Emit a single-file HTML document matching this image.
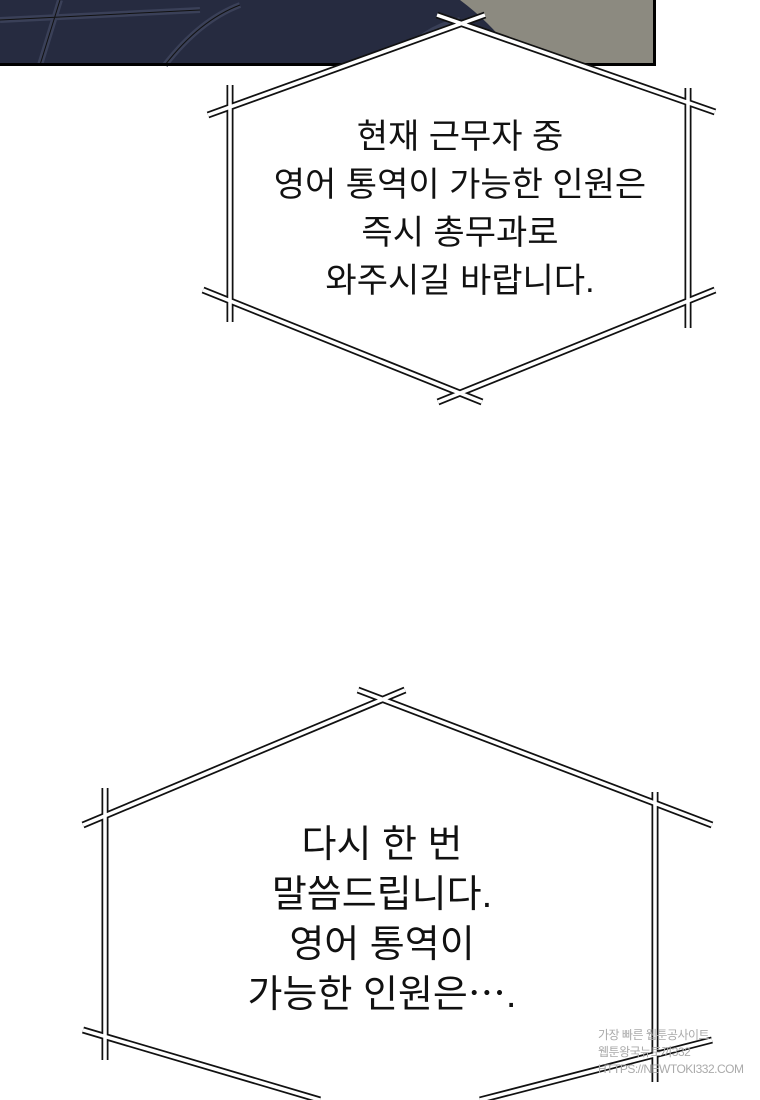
<!DOCTYPE html>
<html><head><meta charset="utf-8"><style>
body{margin:0;width:760px;height:1100px;background:#fff;overflow:hidden;position:relative;font-family:"Liberation Sans","Noto Sans CJK KR",sans-serif}
.t{position:absolute;text-align:center;color:#111;white-space:nowrap}
</style></head><body>
<svg width="760" height="1100" style="position:absolute;left:0;top:0">
<rect x="0" y="0" width="655" height="65" fill="#262b40"/>
<path d="M460 0 L655 0 L655 65 L520 65 Q500 30 460 0Z" fill="#8c8a80"/>
<path d="M0 20 L200 10 M40 65 L60 0 M165 65 Q200 20 240 5 M400 60 Q420 30 460 20" stroke="#3a4058" stroke-width="6" fill="none"/>
<path d="M0 20 L200 10 M40 65 L60 0 M165 65 Q200 20 240 5" stroke="#111" stroke-width="1" fill="none"/>
<rect x="0" y="63" width="655" height="3" fill="#000"/>
<rect x="653" y="0" width="3" height="66" fill="#000"/>
<polygon points="460,22 230,108 230,303 460,395 688,303 688,108" fill="#fff"/>
<polygon points="382,697 105,808 105,1042 382,1130 655,1042 655,808" fill="#fff"/>
<g stroke="#111" stroke-width="7" stroke-linecap="butt" fill="none">
<path d="M208 115 L485 15 M437 15 L715 112 M230 85 V322 M688 88 V328 M203 290 L482 402 M715 290 L438 402"/>
<path d="M83 825 L405 690 M358 690 L712 825 M105 788 V1060 M655 792 V1082 M83 1030 L320 1100 M712 1040 L480 1100"/>
</g>
<g stroke="#fff" stroke-width="3.5" fill="none">
<path d="M208 115 L485 15 M437 15 L715 112 M230 85 V322 M688 88 V328 M203 290 L482 402 M715 290 L438 402"/>
<path d="M83 825 L405 690 M358 690 L712 825 M105 788 V1060 M655 792 V1082 M83 1030 L320 1100 M712 1040 L480 1100"/>
</g>
</svg>
<div class="t" style="left:260px;width:400px;top:113px;font-size:34px;line-height:48px">현재 근무자 중<br>영어 통역이 가능한 인원은<br>즉시 총무과로<br>와주시길 바랍니다.</div>
<div class="t" style="left:182px;width:400px;top:820px;font-size:38px;line-height:50px">다시 한 번<br>말씀드립니다.<br>영어 통역이<br>가능한 인원은⋯.</div>
<div class="t" style="left:598px;top:1027px;font-size:12px;line-height:17px;color:#aaa;text-align:left;letter-spacing:-0.5px">가장 빠른 웹툰공사이트<br>웹툰왕국뉴토끼332<br>HTTPS://NEWTOKI332.COM</div>
</body></html>
